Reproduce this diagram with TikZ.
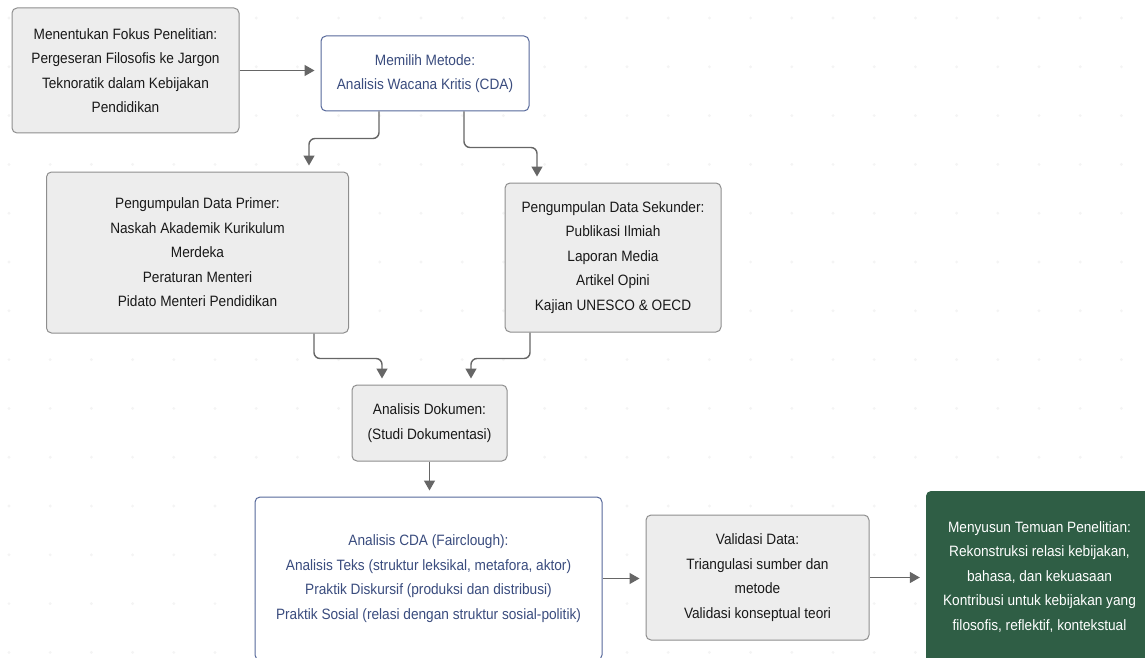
\documentclass[tikz,border=0pt]{standalone}
\usepackage{fontspec}
\setmainfont[FakeStretch=0.91]{Liberation Sans}
\usetikzlibrary{arrows.meta}
\definecolor{boxfill}{HTML}{EDEDED}
\definecolor{boxline}{HTML}{8E8E8E}
\definecolor{blueline}{HTML}{56689A}
\definecolor{bluetext}{HTML}{3A4C7E}
\definecolor{greenfill}{HTML}{2F5E45}
\definecolor{connline}{HTML}{666666}
\definecolor{dotcol}{HTML}{F4F4F4}

\begin{document}
\begin{tikzpicture}[x=1pt,y=-1pt,
	every node/.style={inner sep=0pt, align=center, font=\fontsize{15pt}{24.5pt}\selectfont},
	graybox/.style={draw=boxline, fill=boxfill, rounded corners=5pt, line width=1pt, text=black!90},
	bluebox/.style={draw=blueline, fill=white, rounded corners=5pt, line width=1pt, text=bluetext},
	greenbox/.style={fill=greenfill, rounded corners=5pt, text=white},
	conn/.style={draw=connline, line width=1.4pt, rounded corners=6pt, -{Triangle[width=11pt,length=10pt]}, shorten >=6pt}]
			\useasboundingbox (0,0) rectangle (1145,658);
			\clip (0,0) rectangle (1145,658);
			\foreach \i in {0,...,27}
				\foreach \j in {0,...,13}
					\fill [dotcol] (9+41.2*\i,18+48.8*\j) circle (1.6pt);
			\node [graybox, minimum width=227pt, minimum height=125pt] (fokus) at (125.5,70.5) {Menentukan Fokus Penelitian:\\Pergeseran Filosofis ke Jargon\\Teknoratik dalam Kebijakan\\Pendidikan};
			\node [bluebox, minimum width=208pt, minimum height=75pt] (metode) at (425,73.5) {Memilih Metode:\\Analisis Wacana Kritis (CDA)};
			\node [graybox, minimum width=302pt, minimum height=161pt] (primer) at (197.5,252.5) {Pengumpulan Data Primer:\\Naskah Akademik Kurikulum\\Merdeka\\Peraturan Menteri\\Pidato Menteri Pendidikan};
			\node [graybox, minimum width=216pt, minimum height=149pt] (sekunder) at (613,257.5) {Pengumpulan Data Sekunder:\\Publikasi Ilmiah\\Laporan Media\\Artikel Opini\\Kajian UNESCO \& OECD};
			\node [graybox, minimum width=155pt, minimum height=76pt] (dokumen) at (429.5,423) {Analisis Dokumen:\\(Studi Dokumentasi)};
			\node [bluebox, minimum width=347pt, minimum height=163pt] (cda) at (428.5,578.5) {Analisis CDA (Fairclough):\\Analisis Teks (struktur leksikal, metafora, aktor)\\Praktik Diskursif (produksi dan distribusi)\\Praktik Sosial (relasi dengan struktur sosial-politik)};
			\node [graybox, minimum width=223pt, minimum height=125pt] (validasi) at (757.5,577.5) {Validasi Data:\\Triangulasi sumber dan\\metode\\Validasi konseptual teori};
			\node [greenbox, minimum width=227pt, minimum height=172pt] (temuan) at (1039.5,577) {Menyusun Temuan Penelitian:\\Rekonstruksi relasi kebijakan,\\bahasa, dan kekuasaan\\Kontribusi untuk kebijakan yang\\filosofis, reflektif, kontekstual};
			\draw [conn] (fokus.east) -- (fokus.east -| metode.west);
			\draw [conn] ([xshift=-46pt]metode.south) -- ++(0,27) -| ([xshift=111.5pt]primer.north);
			\draw [conn] ([xshift=39pt]metode.south) -- ++(0,36) -| ([xshift=-76pt]sekunder.north);
			\draw [conn] ([xshift=116.5pt]primer.south) -- ++(0,25) -| ([xshift=-47.5pt]dokumen.north);
			\draw [conn] ([xshift=-83pt]sekunder.south) -- ++(0,26) -| ([xshift=41.5pt]dokumen.north);
			\draw [conn] (dokumen.south) -- (dokumen.south |- cda.north);
			\draw [conn] (cda.east) -- (cda.east -| validasi.west);
			\draw [conn] (validasi.east) -- (validasi.east -| temuan.west);
\end{tikzpicture}
\end{document}
